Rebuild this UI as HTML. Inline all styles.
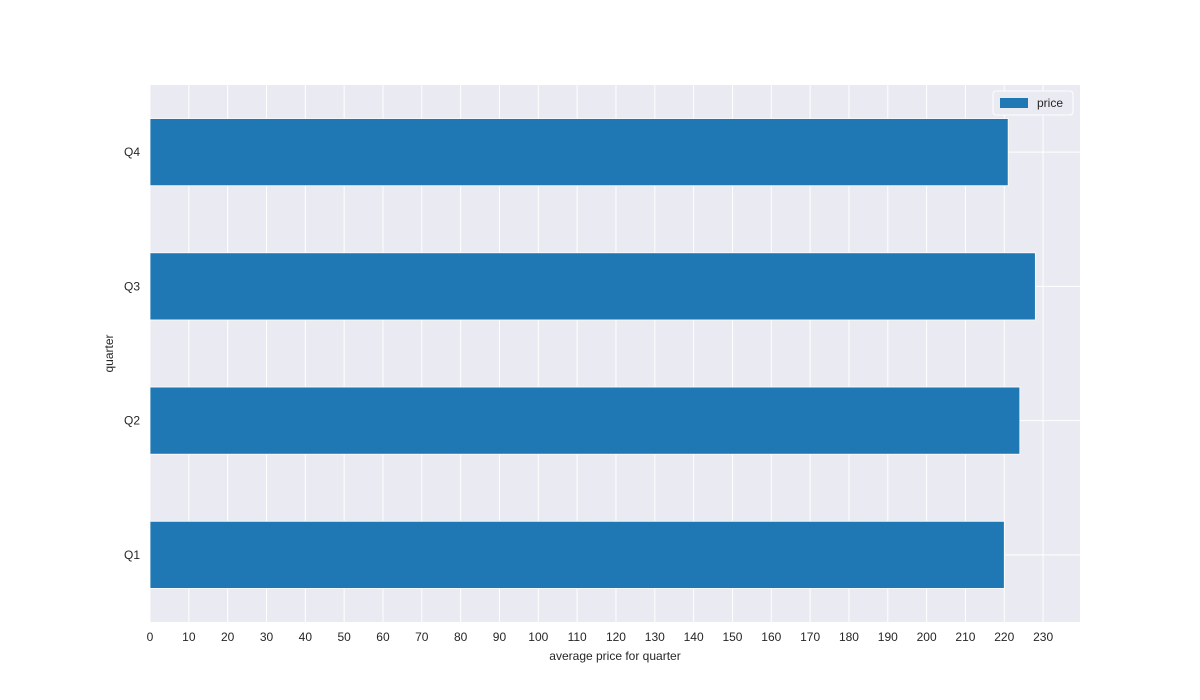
<!DOCTYPE html>
<html><head><meta charset="utf-8"><style>
html,body{margin:0;padding:0;background:#fff;font-family:"Liberation Sans",sans-serif;overflow:hidden;width:1200px;height:700px;}
svg{display:block;}
</style></head><body>
<svg id="chart" width="1200" height="700" xmlns="http://www.w3.org/2000/svg" font-family="Liberation Sans, sans-serif"></svg>
<script>
const categories=["Q1","Q2","Q3","Q4"];
const prices=[220,224,228,221];
const xTicks=[0,10,20,30,40,50,60,70,80,90,100,110,120,130,140,150,160,170,180,190,200,210,220,230];
const svg=document.getElementById('chart');
const NS="http://www.w3.org/2000/svg";
const L=150,R=1080,T=85,B=622,XMAX=239.5;
const x=v=>L+v/XMAX*(R-L);
const y=i=>B-(i+0.5)/categories.length*(B-T);
const band=(B-T)/categories.length;
function el(t,a,p){const e=document.createElementNS(NS,t);for(const k in a)e.setAttribute(k,a[k]);(p||svg).appendChild(e);return e;}
const bg=el('rect',{x:L,y:T,width:R-L,height:B-T,fill:'#eaeaf2'});


xTicks.forEach(v=>{
 const g=el('line',{x1:x(v),x2:x(v),y1:T,y2:B,stroke:'#fff','stroke-width':1});
 
 
 const t=el('text',{x:x(v),y:B+19,'text-anchor':'middle','font-size':12,fill:'#262626'});
 t.textContent=v;
 
 
});
categories.forEach((c,i)=>{
 const g=el('line',{x1:L,x2:R,y1:y(i),y2:y(i),stroke:'#fff','stroke-width':1});
 
 
 const t=el('text',{x:L-10,y:y(i)+4,'text-anchor':'end','font-size':12,fill:'#262626'});
 t.textContent=c;
 
 
});
prices.forEach((v,i)=>{
 const r=el('rect',{x:x(0),y:y(i)-band/4,width:x(v)-x(0),height:band/2,fill:'#1f77b4',stroke:'#fff','stroke-width':0.8});
 
 
});
const xt=el('text',{x:(L+R)/2,y:660,'text-anchor':'middle','font-size':12,fill:'#262626'});
xt.textContent='average price for quarter';


const yt=el('text',{x:0,y:0,transform:`translate(113,${(T+B)/2}) rotate(-90)`,'text-anchor':'middle','font-size':12,fill:'#262626'});
yt.textContent='quarter';


const lg=el('g',{});


el('rect',{x:993,y:91,width:80,height:24,rx:3,fill:'#eaeaf2',stroke:'#fff'},lg);
const sw=el('rect',{x:1000,y:98,width:28,height:10,fill:'#1f77b4'},lg);


const lt=el('text',{x:1037,y:107,'font-size':12,fill:'#262626'},lg);
lt.textContent='price';


</script>
</body></html>
